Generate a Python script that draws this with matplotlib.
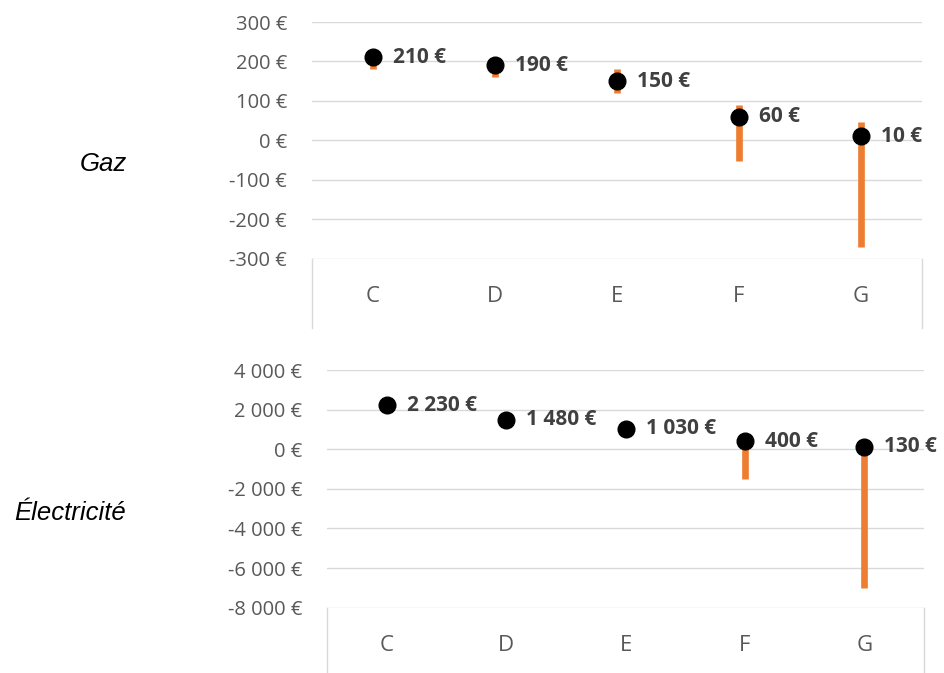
import matplotlib
matplotlib.use("Agg")
import matplotlib.pyplot as plt
from matplotlib.ticker import FuncFormatter, MultipleLocator
from matplotlib.lines import Line2D

# --- data ---
categories = ["C", "D", "E", "F", "G"]

gaz_values = [210, 190, 150, 60, 10]
gaz_low = [180, 160, 120, -53, -272]
gaz_high = [215, 205, 180, 89, 47]

elec_values = [2230, 1480, 1030, 400, 130]
elec_low = [2150, 1420, 980, -1500, -7000]
elec_high = [2300, 1540, 1080, 450, 180]

GRID = "#D9D9D9"
ORANGE = "#ED7D31"
TICK_COL = "#595959"
LABEL_COL = "#404040"
FONT = "Open Sans"


def euro(v):
    # Excel style: space as thousands separator, hyphen for minus
    s = f"{abs(int(round(v))):,}".replace(",", " ")
    return ("-" if v < 0 else "") + s + " €"


def draw_panel(ax, values, low, high, ylim, step, box_px, height_px):
    x = list(range(len(categories)))
    ax.set_xlim(-0.5, len(categories) - 0.5)
    ax.set_ylim(*ylim)
    ax.yaxis.set_major_locator(MultipleLocator(step))
    ax.yaxis.set_major_formatter(FuncFormatter(lambda v, p: euro(v)))
    for s in ax.spines.values():
        s.set_visible(False)
    ax.set_xticks([])
    ax.tick_params(axis="y", length=0, pad=18, labelsize=14.5, labelcolor=TICK_COL)
    for lab in ax.get_yticklabels():
        lab.set_fontfamily(FONT)
    ax.yaxis.grid(True, color=GRID, lw=1.0)
    ax.set_axisbelow(True)

    # category box under the plot area
    depth = box_px / height_px
    for xx in (0, 1):
        ax.add_line(Line2D([xx, xx], [0, -depth], transform=ax.transAxes,
                           color=GRID, lw=1.0, clip_on=False))
    for i, c in enumerate(categories):
        ax.text(i, -38 / height_px, c, transform=ax.get_xaxis_transform(),
                ha="center", va="center", fontsize=16, color=TICK_COL,
                fontfamily=FONT)

    ax.vlines(x, low, high, color=ORANGE, lw=4.8, zorder=2)
    ax.plot(x, values, "o", color="black", ms=12, zorder=3)
    for xi, v in zip(x, values):
        ax.annotate(euro(v), (xi, v), xytext=(14.4, 0), textcoords="offset points",
                    ha="left", va="center", fontsize=15, fontweight="bold",
                    color=LABEL_COL, fontfamily=FONT, annotation_clip=False)


W, H = 944, 673
fig = plt.figure(figsize=(W / 100, H / 100), dpi=100)

ax1 = fig.add_axes([312 / W, 1 - 258.5 / H, 610 / W, 236.5 / H])
draw_panel(ax1, gaz_values, gaz_low, gaz_high, (-300, 300), 100, 69, 236.5)

ax2 = fig.add_axes([327 / W, 1 - 607.7 / H, 597 / W, 237.7 / H])
draw_panel(ax2, elec_values, elec_low, elec_high, (-8000, 4000), 2000, 66, 237.7)

fig.text(127 / W, 1 - 164 / H, "Gaz", ha="right", va="center", fontsize=18.5,
         style="italic", fontfamily="Liberation Sans", color="black")
fig.text(126 / W, 1 - 513 / H, "Électricité", ha="right", va="center", fontsize=18.5,
         style="italic", fontfamily="Liberation Sans", color="black")

fig.savefig("out.png", dpi=100)
